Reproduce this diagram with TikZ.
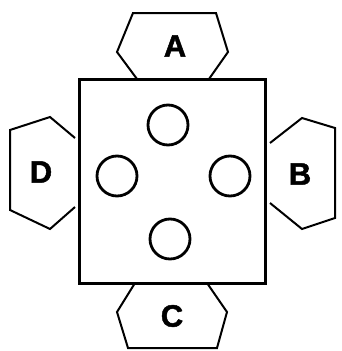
\documentclass[tikz,border=0pt]{standalone}
\usepackage{fontspec}
\setmainfont{Liberation Sans}
\newfontfamily\heavyfont[FakeBold=1.5]{Liberation Sans Bold}
\begin{document}
\begin{tikzpicture}[x=1pt,y=-1pt,
  hexline/.style={line width=2pt,line join=miter},
  boxline/.style={line width=3pt},
  hole/.style={circle,draw,line width=2.8pt,minimum size=40pt,inner sep=0pt},
  letter/.style={font=\heavyfont\fontsize{31}{31}\selectfont,inner sep=0pt}]
\useasboundingbox (0,0) rectangle (341,351);
% square
\node[draw,boxline,minimum width=186pt,minimum height=204pt,inner sep=0pt] (sq) at (172,181) {};
% hexagon A (top)
\coordinate (a1) at (137,79);
\coordinate (a6) at (209,79);
\draw[hexline] (a1) -- (117,52) -- (133,13) -- (216,13) -- (228,52) -- (a6);
% hexagon C (bottom)
\coordinate (c1) at (135,283);
\coordinate (c6) at (207,283);
\draw[hexline] (c1) -- (117,312) -- (128,348) -- (217,348) -- (227,312) -- (c6);
% hexagon D (left)
\coordinate (d1) at (75,138);
\coordinate (d6) at (75,207);
\draw[hexline] (d1) -- (50,117) -- (10,130) -- (10,210) -- (50,229) -- (d6);
% hexagon B (right)
\coordinate (b1) at (270,143);
\coordinate (b6) at (270,203);
\draw[hexline] (b1) -- (302,118) -- (335,128) -- (335,218) -- (302,229) -- (b6);
% labels
\node[letter] (la) at (175,46) {A};
\node[letter] (lc) at (172,316) {C};
\node[letter] (ld) at (41,172) {D};
\node[letter] (lb) at (300,174) {B};
% holes
\node[hole] (h1) at (168,125) {};
\node[hole] (h2) at (117,176) {};
\node[hole] (h3) at (230,176) {};
\node[hole] (h4) at (170,239) {};
\end{tikzpicture}
\end{document}
